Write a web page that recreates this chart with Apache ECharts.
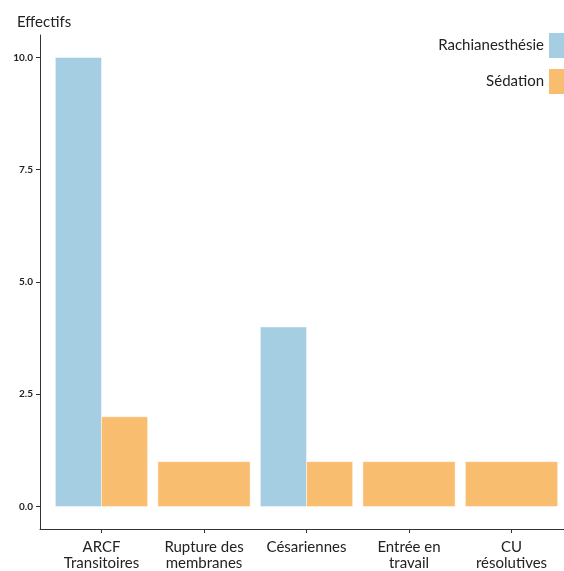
<!DOCTYPE html>
<html><head><meta charset="utf-8">
<script src="https://cdn.jsdelivr.net/npm/echarts@6/dist/echarts.min.js"></script>
<style>html,body{margin:0;padding:0;background:#fff}#c{width:564px;height:571px}</style>
</head><body><div id="c"></div>
<script>
const categories = ["ARCF\nTransitoires", "Rupture des\nmembranes", "Césariennes", "Entrée en\ntravail", "CU\nrésolutives"];
const seriesNames = ["Rachianesthésie", "Sédation"];
const rachi = [10, 0, 4, 0, 0];
const sedation = [2, 1, 1, 1, 1];
const yTicks = [0, 2.5, 5, 7.5, 10];
const colors = ["#a6cee3", "#f9bd6f"];
const allValues = [rachi, sedation];

const FONT = "Lato, 'Noto Sans', sans-serif";

function makeRender(s) {
  return function (params, api) {
    const i = api.value(0);
    const v = api.value(1);
    if (!v) return null;
    const present = [];
    allValues.forEach((arr, k) => { if (arr[i]) present.push(k); });
    const n = present.length;
    const k = present.indexOf(s);
    const band = api.size([1, 0])[0];
    const total = band * 0.9;
    const w = total / n;
    const base = api.coord([i, 0]);
    const top = api.coord([i, v]);
    const x0 = base[0] - total / 2 + k * w;
    return {
      type: 'rect',
      shape: { x: x0, y: top[1], width: w, height: base[1] - top[1] },
      style: { fill: colors[s], stroke: 'rgba(255,255,255,0.45)', lineWidth: 1 }
    };
  };
}

const chart = echarts.init(document.getElementById('c'), null, { renderer: 'canvas' });
chart.setOption({
  animation: false,
  title: { text: 'Effectifs', left: 12, top: 10, textStyle: { fontFamily: FONT, fontSize: 15, fontWeight: 'normal', color: '#222' } },
  legend: {
    orient: 'vertical', right: 0, top: 33, align: 'right', padding: 0,
    itemWidth: 15, itemHeight: 25, itemGap: 11,
    icon: 'rect',
    textStyle: { fontFamily: FONT, fontSize: 15, color: '#222' },
    data: seriesNames
  },
  grid: { left: 40, right: 0, top: 35, height: 494 },
  xAxis: {
    type: 'value', min: -0.6, max: 4.512,
    splitLine: { show: false },
    axisLine: { show: true, onZero: false, lineStyle: { color: '#333', width: 1 } },
    axisTick: { show: true, length: 4, lineStyle: { color: '#333' }, customValues: [0, 1, 2, 3, 4] },
    axisLabel: {
      customValues: [0, 1, 2, 3, 4],
      formatter: v => categories[Math.round(v)],
      fontFamily: FONT, fontSize: 15, color: '#222', lineHeight: 16, margin: 10
    }
  },
  yAxis: {
    type: 'value', min: -0.5, max: 10.5,
    splitLine: { show: false },
    axisLine: { show: true, onZero: false, lineStyle: { color: '#333', width: 1 } },
    axisTick: { show: true, length: 4, lineStyle: { color: '#333' }, customValues: yTicks },
    axisLabel: {
      customValues: yTicks,
      formatter: v => v.toFixed(1),
      fontFamily: FONT, fontSize: 10, fontWeight: 'bold', color: '#222', margin: 7
    }
  },
  series: [0, 1].map(s => ({
    name: seriesNames[s],
    type: 'custom',
    itemStyle: { color: colors[s] },
    encode: { x: 0, y: 1 },
    data: allValues[s].map((v, i) => [i, v]),
    renderItem: makeRender(s)
  }))
});
</script></body></html>
